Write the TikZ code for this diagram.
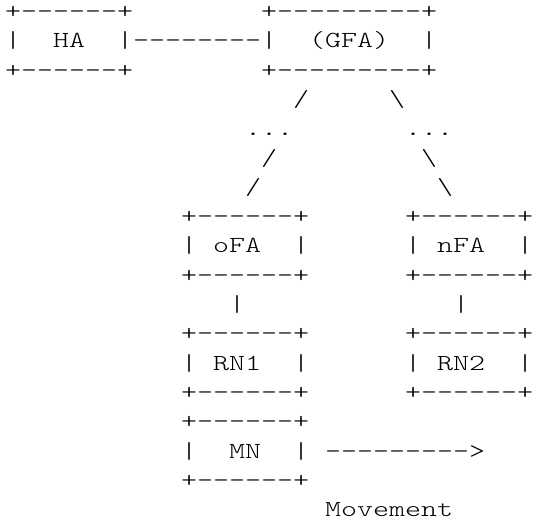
\documentclass[tikz,border=0pt]{standalone}
\usepackage{tikz}
\usepackage{graphicx}
\newlength{\ascw}
\newcommand{\ascfont}{\fontsize{23}{29.3}\fontseries{l}\ttfamily}
\AtBeginDocument{%
    \settowidth{\ascw}{\ascfont 0}%
    \pgfmathsetmacro{\ascx}{16pt/\ascw}%
}
\newcommand{\asc}[1]{\scalebox{\ascx}[1]{#1}}
\newcommand{\dashes}[1]{\foreach \n in {1,...,#1}{-\kern0pt}}
\tikzstyle{asc}=[
    anchor = base west,
    inner sep = 0cm,
    font = \ascfont
]
% three text lines of one ascii box: name, column, row, dashes, middle line
\newcommand{\asciibox}[5]{%
    \draw node [asc] (#1-t) at (#2, #3) {\asc{+\dashes{#4}+}};
    \draw node [asc] (#1) at (#2, #3 + 1) {\asc{#5}};
    \draw node [asc] (#1-b) at (#2, #3 + 2) {\asc{+\dashes{#4}+}};
}

\begin{document}
\begin{tikzpicture}[x = 16pt, y = -29.3pt]
    \useasboundingbox (-5pt, 18.5pt) rectangle (528pt, -503.5pt);

    \asciibox{HA}{0}{0}{6}{|~~HA~~|}
    \asciibox{GFA}{16}{0}{9}{|~~(GFA)~~|}
    \draw node [asc] (link) at (8, 1) {\asc{\dashes{8}}};

    \draw node [asc] (sl1) at (18, 3) {\asc{/}};
    \draw node [asc] (bs1) at (24, 3) {\asc{\textbackslash}};
    \draw node [asc] (dl) at (15, 4) {\asc{...}};
    \draw node [asc] (dr) at (25, 4) {\asc{...}};
    \draw node [asc] (sl2) at (16, 5) {\asc{/}};
    \draw node [asc] (bs2) at (26, 5) {\asc{\textbackslash}};
    \draw node [asc] (sl3) at (15, 6) {\asc{/}};
    \draw node [asc] (bs3) at (27, 6) {\asc{\textbackslash}};

    \asciibox{oFA}{11}{7}{6}{|~oFA~~|}
    \asciibox{nFA}{25}{7}{6}{|~nFA~~|}
    \draw node [asc] (vl) at (14, 10) {\asc{|}};
    \draw node [asc] (vr) at (28, 10) {\asc{|}};
    \asciibox{RN1}{11}{11}{6}{|~RN1~~|}
    \asciibox{RN2}{25}{11}{6}{|~RN2~~|}

    \asciibox{MN}{11}{14}{6}{|~~MN~~|}
    \draw node [asc] (move) at (20, 15) {\asc{\dashes{9}>}};
    \draw node [asc] (movement) at (20, 17) {\asc{Movement}};
\end{tikzpicture}
\end{document}
